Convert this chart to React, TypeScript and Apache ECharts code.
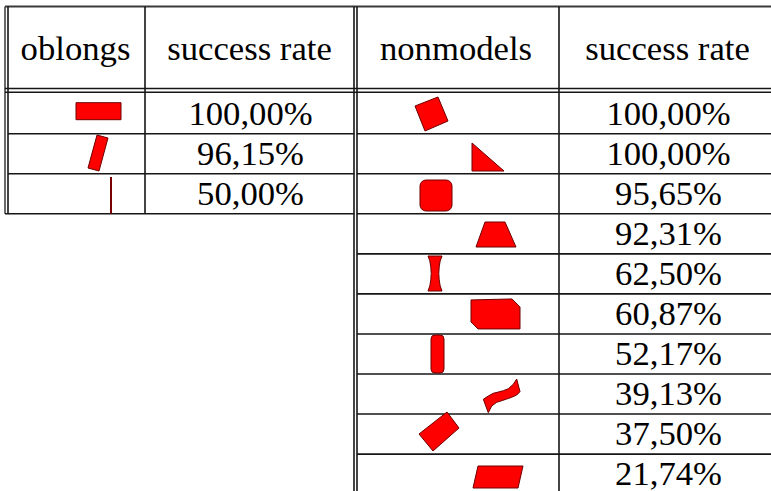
import React, { useEffect, useRef } from "react";
import * as echarts from "echarts";

// ---- data ----
const leftHeader = ["oblongs", "success rate"];
const rightHeader = ["nonmodels", "success rate"];
const oblongRates = ["100,00%", "96,15%", "50,00%"];
const nonmodelRates = ["100,00%", "100,00%", "95,65%", "92,31%", "62,50%", "60,87%", "52,17%", "39,13%", "37,50%", "21,74%"];

// ---- layout constants ----
const W = 771;
const H = 491;
const X_OUT = 5;
const X_IN = 8;
const X_COL1 = 145;
const X_MID_A = 354;
const X_MID_B = 357;
const X_COL3 = 559;
const X_RIGHT_END = 776;
const Y_TOP = 6.5;
const Y_HEAD_A = 88.5;
const Y_HEAD_B = 92.2;
const ROW_FIRST_BOTTOM = 133.7;
const ROW_H = 40.05;

const FILL = "#ff0000";
const EDGE = "#6e0000";

type Shape =
  | { kind: "poly"; pts: number[][] }
  | { kind: "rect"; x: number; y: number; w: number; h: number; r: number }
  | { kind: "line"; x: number; y1: number; y2: number };

// icon outlines relative to (cell left, row bottom)
const oblongIcons: Shape[] = [
  { kind: "rect", x: 68, y: -31, w: 45, h: 17, r: 0 },
  { kind: "poly", pts: [[89, -38.75], [100, -35.75], [91, -2.75], [80, -5.75]] },
  { kind: "line", x: 103, y1: -36.75, y2: 0 },
];
const nonmodelIcons: Shape[] = [
  { kind: "poly", pts: [[81, -36.7], [91, -12.7], [68, -2.7], [58, -27.7]] },
  { kind: "poly", pts: [[115, -30.75], [115, -2.75], [147, -2.75]] },
  { kind: "rect", x: 63, y: -33.8, w: 32, h: 31, r: 6 },
  { kind: "poly", pts: [[128, -31.85], [148, -31.85], [159, -6.85], [119, -6.85]] },
  {
    kind: "poly",
    pts: [
      [71, -37.9], [85, -37.9], [83.2, -33], [82.2, -27], [81.8, -20.4], [82.2, -14], [83.2, -8], [85, -2.9],
      [71, -2.9], [72.8, -8], [73.8, -14], [74.2, -20.4], [73.8, -27], [72.8, -33],
    ],
  },
  { kind: "poly", pts: [[114, -34], [155, -35], [163, -27], [163, -5], [121, -5], [114, -12]] },
  { kind: "rect", x: 74, y: -39, w: 13, h: 38, r: 4 },
  {
    kind: "poly",
    pts: [
      [126.3, -14.75], [131.3, -18.05], [136.3, -20.75], [141.3, -22.05], [146.3, -23.35], [151.3, -25.35], [156.3, -29.75], [159.7, -35.05],
      [163, -22.35], [159.7, -19.05], [154.7, -16.75], [149.7, -15.05], [144.7, -13.35], [139.7, -11.75], [134.7, -8.05], [131.3, -1.35],
    ],
  },
  { kind: "poly", pts: [[90, -42.1], [102, -26.1], [76, -3.1], [62, -20.1]] },
  { kind: "poly", pts: [[121, -28.15], [166, -28.15], [161, -6.15], [116, -6.15]] },
];

function rowBottom(i: number) {
  return ROW_FIRST_BOTTOM + i * ROW_H;
}

function line(x1: number, y1: number, x2: number, y2: number, w = 1.6, c = "#161616") {
  return { type: "line", silent: true, shape: { x1, y1, x2, y2 }, style: { stroke: c, lineWidth: w } };
}

function text(t: string, x: number, y: number) {
  return {
    type: "text",
    silent: true,
    x,
    y,
    scaleX: 1.02,
    style: {
      text: t,
      fill: "#000",
      fontFamily: "Liberation Serif",
      fontSize: 34,
      textAlign: "center",
      textVerticalAlign: "middle",
    },
  };
}

function icon(s: Shape, ox: number, oy: number) {
  if (s.kind === "rect") {
    return {
      type: "rect",
      silent: true,
      shape: { x: ox + s.x, y: oy + s.y, width: s.w, height: s.h, r: s.r },
      style: { fill: FILL, stroke: EDGE, lineWidth: 1 },
    };
  }
  if (s.kind === "line") {
    return line(ox + s.x, oy + s.y1, ox + s.x, oy + s.y2, 2, "#7a0000");
  }
  return {
    type: "polygon",
    silent: true,
    shape: { points: s.pts.map((p) => [ox + p[0], oy + p[1]]) },
    style: { fill: FILL, stroke: EDGE, lineWidth: 1, lineJoin: "round" },
  };
}

export default function App() {
  const ref = useRef<HTMLDivElement>(null);
  useEffect(() => {
    if (!ref.current) return;
    const chart = echarts.init(ref.current, undefined, { renderer: "svg" });
    const els: any[] = [];
    els.push({ type: "rect", silent: true, shape: { x: 0, y: 0, width: W, height: H }, style: { fill: "#fff" } });

    const leftBottom = rowBottom(oblongRates.length - 1);
    // frame
    els.push(line(X_OUT, Y_TOP, W, Y_TOP, 2, "#3a3a3a"));
    els.push(line(X_OUT, Y_TOP, X_OUT, leftBottom, 1.6, "#444"));
    els.push(line(X_IN, Y_TOP, X_IN, leftBottom));
    els.push(line(X_MID_A, Y_TOP, X_MID_A, H));
    els.push(line(X_MID_B, Y_TOP, X_MID_B, H));
    els.push(line(X_COL1, Y_TOP, X_COL1, leftBottom));
    els.push(line(X_COL3, Y_TOP, X_COL3, H));
    els.push(line(X_OUT, Y_HEAD_A, W, Y_HEAD_A));
    els.push(line(X_OUT, Y_HEAD_B, W, Y_HEAD_B));

    // left rows
    oblongRates.forEach((_, i) => {
      const yb = rowBottom(i);
      els.push(line(i === oblongRates.length - 1 ? X_OUT : X_IN, yb, X_MID_A, yb));
    });
    // right rows
    nonmodelRates.forEach((_, i) => {
      const yb = rowBottom(i);
      if (yb < H) els.push(line(X_MID_B, yb, W, yb));
    });

    // icons
    oblongIcons.forEach((s, i) => els.push(icon(s, X_IN, rowBottom(i))));
    nonmodelIcons.forEach((s, i) => els.push(icon(s, X_MID_B, rowBottom(i))));

    // header texts
    const headY = 48.5;
    els.push(text(leftHeader[0], (X_IN + X_COL1) / 2 - 1, headY));
    els.push(text(leftHeader[1], (X_COL1 + X_MID_A) / 2, headY));
    els.push(text(rightHeader[0], (X_MID_B + X_COL3) / 2 - 2, headY));
    els.push(text(rightHeader[1], (X_COL3 + X_RIGHT_END) / 2, headY));

    // values
    oblongRates.forEach((v, i) => els.push(text(v, (X_COL1 + X_MID_A) / 2 + 1, rowBottom(i) - 21)));
    nonmodelRates.forEach((v, i) => els.push(text(v, (X_COL3 + X_RIGHT_END) / 2 + 1, rowBottom(i) - 21)));

    chart.setOption({ animation: false, graphic: els });
    return () => chart.dispose();
  }, []);
  return (
    <div
      ref={ref}
      style={{ position: "fixed", left: 0, top: 0, width: W, height: H, background: "#fff" }}
    />
  );
}
